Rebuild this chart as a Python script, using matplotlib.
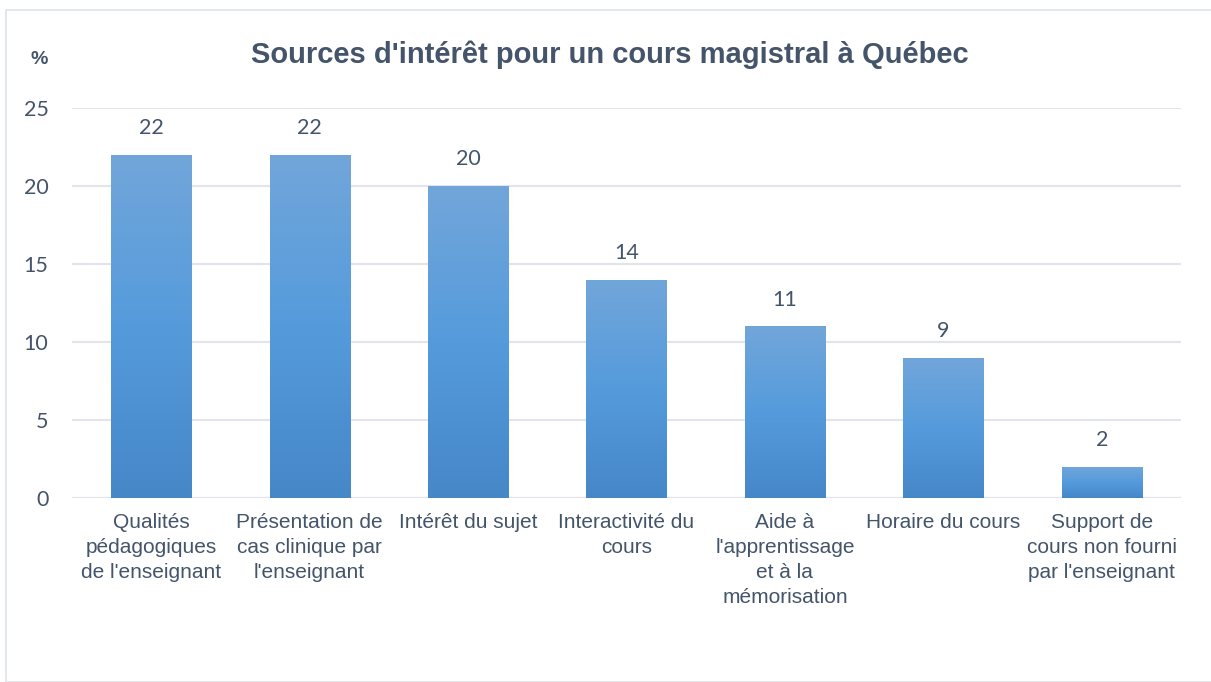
import numpy as np
import matplotlib.pyplot as plt
from matplotlib.colors import LinearSegmentedColormap
from matplotlib.patches import Rectangle

# données
categories = ["Qualités\npédagogiques\nde l'enseignant",
              "Présentation de\ncas clinique par\nl'enseignant",
              "Intérêt du sujet",
              "Interactivité du\ncours",
              "Aide à\nl'apprentissage\net à la\nmémorisation",
              "Horaire du cours",
              "Support de\ncours non fourni\npar l'enseignant"]
values = [22, 22, 20, 14, 11, 9, 2]
yticks = [0, 5, 10, 15, 20, 25]

txt_col = '#44546A'
grid_col = '#E1E5EB'

fig = plt.figure(figsize=(12.11, 6.82), dpi=100)
# cadre du graphique
fig.patches.append(Rectangle((6 / 1211, 0), 1, 1 - 10 / 682, transform=fig.transFigure,
                             fill=False, edgecolor='#DDE2EA', linewidth=1.2))

ax = fig.add_axes([72 / 1211, 1 - 498 / 682, (1181 - 72) / 1211, (498 - 108) / 682])
x = np.arange(len(values))
bars = ax.bar(x, values, width=0.505, color='none', zorder=3)

# dégradé vertical dans chaque barre
cmap = LinearSegmentedColormap.from_list('bleu', ['#4687C8', '#559BDC', '#72A6DA'])
grad = np.linspace(0, 1, 256).reshape(-1, 1)
for b in bars:
    x0, y0 = b.get_x(), b.get_y()
    w, h = b.get_width(), b.get_height()
    im = ax.imshow(grad, cmap=cmap, origin='lower', aspect='auto',
                   extent=[x0, x0 + w, y0, y0 + h], zorder=3)
    im.set_clip_path(b)

for xi, v in zip(x, values):
    ax.annotate(str(v), (xi, v), xytext=(0, 12), textcoords='offset points',
                ha='center', va='bottom', fontsize=15.5, color=txt_col, family='Lato')

ax.set_xlim(-0.5, len(values) - 0.5)
ax.set_ylim(0, 25)
ax.set_yticks(yticks)
ax.set_yticklabels([str(t) for t in yticks], fontsize=15.5, color=txt_col, family='Lato')
ax.set_xticks(x)
ax.set_xticklabels(categories, fontsize=15, color=txt_col, family='Liberation Sans',
                   linespacing=1.4, va='top')
ax.tick_params(axis='both', length=0)
ax.tick_params(axis='x', pad=11)
ax.tick_params(axis='y', pad=17)
ax.grid(axis='y', color=grid_col, linewidth=1.5, zorder=0)
for s in ax.spines.values():
    s.set_visible(False)
ax.axhline(0, color=grid_col, linewidth=1.5, zorder=2)

fig.text(610 / 1211, 1 - 55 / 682, "Sources d'intérêt pour un cours magistral à Québec",
         ha='center', va='center', fontsize=21, fontweight='bold', color=txt_col,
         family='Liberation Sans')
fig.text(39 / 1211, 1 - 60 / 682, '%', ha='center', va='center', fontsize=14,
         fontweight='bold', color=txt_col, family='Liberation Sans')

plt.savefig('out.png', dpi=100)
